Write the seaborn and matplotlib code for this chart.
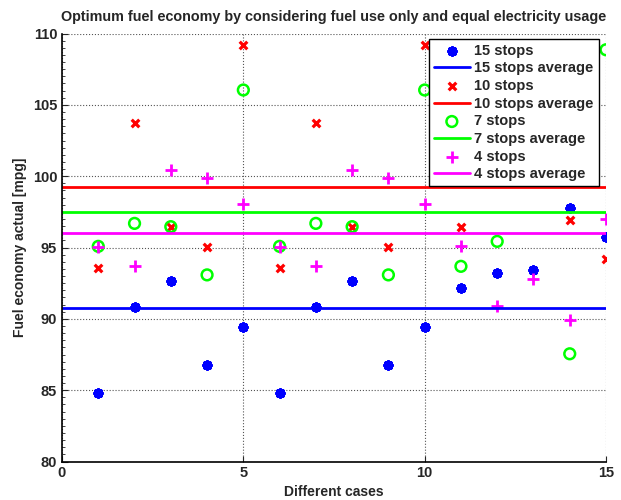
import numpy as np
import pandas as pd
import matplotlib
matplotlib.use("Agg")
import matplotlib.pyplot as plt
import seaborn as sns
from matplotlib.ticker import MultipleLocator

# ========== 数据 ==========
cases = list(range(1, 16))
stops15 = [84.78, 90.86, 92.68, 86.76, 89.40, 84.78, 90.86, 92.68, 86.76, 89.40,
           92.17, 93.22, 93.43, 97.74, 95.76]
stops10 = [93.57, 103.73, 96.46, 95.03, 109.21, 93.57, 103.73, 96.46, 95.03, 109.21,
           96.47, 103.20, 101.96, 96.92, 94.20]
stops7 = [95.08, 96.69, 96.46, 93.08, 106.04, 95.08, 96.69, 96.46, 93.08, 106.04,
          93.68, 95.43, 101.68, 87.55, 108.86]
stops4 = [95.03, 93.68, 100.42, 99.86, 98.06, 95.03, 93.68, 100.42, 99.86, 98.06,
          95.08, 90.91, 92.80, 89.95, 96.97]
averages = {"15": 90.75, "10": 99.25, "7": 97.46, "4": 95.99}

df = pd.DataFrame({"case": cases, "15": stops15, "10": stops10, "7": stops7, "4": stops4})

# ========== 样式 ==========
sns.set_style("white")
plt.rcParams["font.family"] = ["Liberation Sans", "DejaVu Sans"]
plt.rcParams["font.weight"] = "bold"
plt.rcParams["axes.labelweight"] = "bold"
plt.rcParams["axes.titleweight"] = "bold"

fig = plt.figure(figsize=(6.21, 5.0), dpi=100)
ax = fig.add_axes([62 / 621, 1 - 461.5 / 500, 544 / 621, 428 / 500])

# 15 stops
sns.scatterplot(data=df, x="case", y="15", ax=ax, marker=(8, 2, 0), s=26,
                color="#0000ff", edgecolor="#0000ff", linewidth=2.6, label="15 stops")
ax.axhline(averages["15"], color="#0000ff", lw=2, label="15 stops average")
# 10 stops
sns.scatterplot(data=df, x="case", y="10", ax=ax, marker="x", s=30,
                color="#ff0000", linewidth=2.3, label="10 stops")
ax.axhline(averages["10"], color="#ff0000", lw=2, label="10 stops average")
# 7 stops
sns.scatterplot(data=df, x="case", y="7", ax=ax, marker="o", s=60,
                facecolor="none", edgecolor="#00ff00", linewidth=1.8, label="7 stops")
ax.axhline(averages["7"], color="#00ff00", lw=2, label="7 stops average")
# 4 stops
sns.scatterplot(data=df, x="case", y="4", ax=ax, marker="+", s=70,
                color="#ff00ff", linewidth=2, label="4 stops")
ax.axhline(averages["4"], color="#ff00ff", lw=2, label="4 stops average")

# ========== 坐标轴 ==========
ax.set_xlim(0, 15)
ax.set_ylim(80, 110)
ax.xaxis.set_major_locator(MultipleLocator(5))
ax.yaxis.set_major_locator(MultipleLocator(5))
ax.yaxis.set_minor_locator(MultipleLocator(0.5))
ax.tick_params(axis="both", which="both", direction="in", labelsize=10.5,
               top=False, right=False, left=True, bottom=True)
ax.tick_params(which="major", length=4, width=0.8)
ax.tick_params(which="minor", length=2, width=0.6)
ax.grid(True, which="major", linestyle=":", color="#555555", linewidth=0.8)
for s in ["top", "right"]:
    ax.spines[s].set_visible(False)
for s in ["left", "bottom"]:
    ax.spines[s].set_color("black")
    ax.spines[s].set_linewidth(1.2)

ax.set_xlabel("Different cases", fontsize=10, labelpad=3)
ax.set_ylabel("Fuel economy actual [mpg]", fontsize=10, labelpad=4)
ax.set_title("Optimum fuel economy by considering fuel use only and equal electricity usage",
             fontsize=10.4, pad=9)

leg = ax.legend(loc="upper right", bbox_to_anchor=(0.987, 0.988), borderaxespad=0,
                fontsize=10.5, fancybox=False, framealpha=1, edgecolor="black",
                labelspacing=0.25, borderpad=0.35, handlelength=2.5, handletextpad=0.3,
                scatterpoints=1)
leg.get_frame().set_linewidth(1.0)

plt.savefig("out.png", dpi=100)
